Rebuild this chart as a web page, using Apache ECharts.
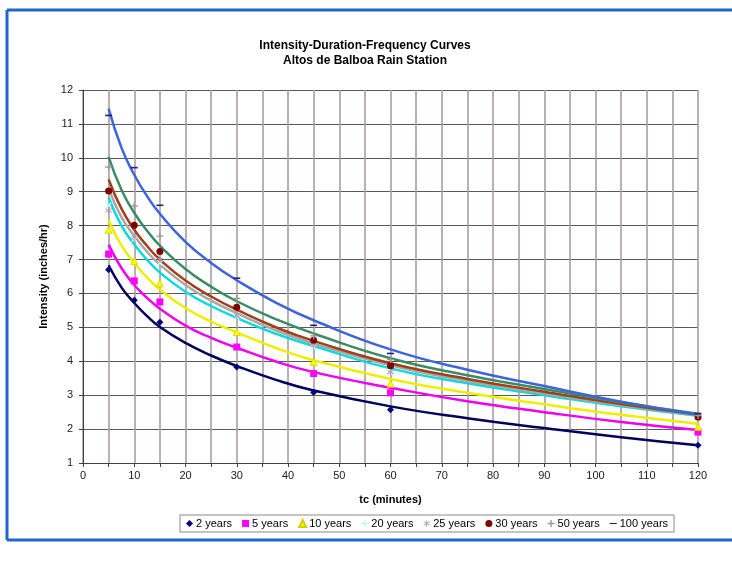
<!DOCTYPE html>
<html>
<head>
<meta charset="utf-8">
<script src="https://cdn.jsdelivr.net/npm/echarts@6/dist/echarts.min.js"></script>
<style>html,body{margin:0;padding:0;background:#fff}#c{width:732px;height:561px}</style>
</head>
<body>
<div id="c"></div>
<script>
// Observed durations (minutes)
const durations = [5, 10, 15, 30, 45, 60, 120];
// Observed intensities (inches/hr) per return period
const obs2 = [6.70, 5.80, 5.15, 3.83, 3.08, 2.57, 1.52];
const obs5 = [7.16, 6.37, 5.75, 4.42, 3.64, 3.07, 1.91];
const obs10 = [7.88, 6.96, 6.30, 4.86, 3.98, 3.34, 2.06];
const obs20 = [8.60, 7.60, 6.90, 5.30, 4.40, 3.65, 2.30];
const obs25 = [8.45, 7.65, 7.00, 5.35, 4.47, 3.68, 2.33];
const obs30 = [9.02, 8.01, 7.24, 5.59, 4.62, 3.87, 2.36];
const obs50 = [9.73, 8.58, 7.69, 5.85, 4.75, 4.05, 2.40];
const obs100 = [11.25, 9.71, 8.60, 6.45, 5.06, 4.23, 2.46];

// Trend curves
const trendX = [5, 7.5, 10, 12.5, 15, 20, 25, 30, 37.5, 45, 60, 75, 90, 105, 120];
const trend2 = [6.83, 6.18, 5.72, 5.33, 5.01, 4.54, 4.17, 3.86, 3.46, 3.14, 2.67, 2.32, 2.03, 1.76, 1.52];
const trend5 = [7.44, 6.75, 6.25, 5.87, 5.55, 5.05, 4.69, 4.40, 4.00, 3.68, 3.22, 2.82, 2.50, 2.21, 1.97];
const trend10 = [8.16, 7.42, 6.90, 6.47, 6.12, 5.57, 5.17, 4.85, 4.40, 4.03, 3.48, 3.07, 2.73, 2.42, 2.16];
const trend20 = [8.83, 8.00, 7.45, 6.99, 6.62, 6.05, 5.63, 5.28, 4.82, 4.45, 3.79, 3.35, 3.00, 2.67, 2.39];
const trend25 = [9.10, 8.25, 7.70, 7.23, 6.85, 6.25, 5.79, 5.42, 4.92, 4.52, 3.88, 3.42, 3.05, 2.71, 2.41];
const trend30 = [9.36, 8.50, 7.88, 7.40, 7.00, 6.38, 5.91, 5.52, 5.01, 4.60, 3.94, 3.48, 3.10, 2.74, 2.43];
const trend50 = [10.03, 9.06, 8.38, 7.85, 7.41, 6.72, 6.20, 5.77, 5.25, 4.82, 4.09, 3.59, 3.18, 2.79, 2.45];
const trend100 = [11.45, 10.30, 9.50, 8.87, 8.35, 7.52, 6.90, 6.39, 5.74, 5.21, 4.35, 3.75, 3.27, 2.81, 2.42];

const seriesNames = ['2 years', '5 years', '10 years', '20 years', '25 years', '30 years', '50 years', '100 years'];
const xTicks = [0, 10, 20, 30, 40, 50, 60, 70, 80, 90, 100, 110, 120];

const FONT = 'Liberation Sans, Arial, sans-serif';
const pair = (xs, ys) => xs.map((x, i) => [x, ys[i]]);

const PLUS = 'path://M4,0H6V4H10V6H6V10H4V6H0V4H4Z';
const STAR = 'path://M4.4,0H5.6V3.8L8.9,1.9L9.5,2.9L6.2,5L9.5,7.1L8.9,8.1L5.6,6.2V10H4.4V6.2L1.1,8.1L0.5,7.1L3.8,5L0.5,2.9L1.1,1.9L4.4,3.8Z';
const DASH = 'path://M0,4.2H10V5.8H0Z';

const obsSets = [
  {name: seriesNames[0], data: obs2, symbol: 'diamond', size: 7, color: '#000080'},
  {name: seriesNames[1], data: obs5, symbol: 'rect', size: 7, color: '#ff00ff'},
  {name: seriesNames[2], data: obs10, symbol: 'triangle', size: 7, color: '#ffff00', border: '#d0d000'},
  {name: seriesNames[3], data: obs20, symbol: PLUS, size: 7, rotate: 45, color: '#c8f4f4'},
  {name: seriesNames[4], data: obs25, symbol: STAR, size: 7, color: '#b49ab8'},
  {name: seriesNames[5], data: obs30, symbol: 'circle', size: 7, color: '#800000'},
  {name: seriesNames[6], data: obs50, symbol: PLUS, size: 7, color: '#9a9a9a'},
  {name: seriesNames[7], data: obs100, symbol: DASH, size: [7, 1.6], color: '#202080'}
];
const trendSets = [
  {data: trend2, color: '#00005e'},
  {data: trend5, color: '#f000f0'},
  {data: trend10, color: '#eeee00'},
  {data: trend20, color: '#10d8dc'},
  {data: trend25, color: '#a8a8a8'},
  {data: trend30, color: '#a0401a'},
  {data: trend50, color: '#3a8c64'},
  {data: trend100, color: '#3c64dc'}
];

const series = [];
trendSets.forEach((t, i) => {
  series.push({
    type: 'line', name: 'trend' + i, data: pair(trendX, t.data),
    smooth: 0.5, showSymbol: false, symbol: 'none',
    lineStyle: {color: t.color, width: 2.5}, z: 2 + i * 0.01, silent: true
  });
});
obsSets.forEach(s => {
  series.push({
    type: 'scatter', name: s.name, data: pair(durations, s.data),
    symbol: s.symbol, symbolSize: s.size, symbolRotate: s.rotate || 0,
    itemStyle: {color: s.color, borderColor: s.border || s.color, borderWidth: s.border ? 0.8 : 0, opacity: 1},
    z: 5
  });
});

const legendData = obsSets.map(s => ({name: s.name, icon: s.symbol}));

const chart = echarts.init(document.getElementById('c'), null, {renderer: 'canvas'});
chart.setOption({
  animation: false,
  backgroundColor: '#ffffff',
  title: {
    text: 'Intensity-Duration-Frequency Curves\nAltos de Balboa Rain Station',
    left: 360, top: 33, textAlign: 'center',
    textStyle: {fontFamily: FONT, fontSize: 12, fontWeight: 'bold', color: '#000', lineHeight: 15}
  },
  graphic: [
    {type: 'line', shape: {x1: 7, y1: 10, x2: 732, y2: 10}, style: {stroke: '#1f66cc', lineWidth: 3}},
    {type: 'line', shape: {x1: 7, y1: 10, x2: 7, y2: 540}, style: {stroke: '#1f66cc', lineWidth: 3}},
    {type: 'line', shape: {x1: 7, y1: 540, x2: 732, y2: 540}, style: {stroke: '#1f66cc', lineWidth: 3}}
  ],
  legend: {
    data: legendData,
    left: 180, top: 515,
    orient: 'horizontal',
    itemWidth: 7, itemHeight: 7, itemGap: 10,
    padding: [3, 6, 3, 6],
    borderColor: '#8a8a8a', borderWidth: 1,
    textStyle: {fontFamily: FONT, fontSize: 11, color: '#000', padding: [0, 0, 0, -2]}
  },
  grid: {left: 83, right: 34, top: 90, bottom: 98, containLabel: false},
  xAxis: {
    type: 'value', min: 0, max: 120, interval: 5,
    name: 'tc (minutes)', nameLocation: 'middle', nameGap: 31,
    nameTextStyle: {fontFamily: FONT, fontSize: 11, fontWeight: 'bold', color: '#000'},
    axisLine: {show: true, lineStyle: {color: '#404040', width: 1}},
    axisTick: {show: true, length: 4, lineStyle: {color: '#404040'}},
    axisLabel: {
      fontFamily: FONT, fontSize: 11, color: '#222', margin: 7,
      formatter: v => (xTicks.indexOf(v) >= 0 ? String(v) : '')
    },
    splitLine: {show: true, lineStyle: {color: '#ab9e9e', width: 1.6}}
  },
  yAxis: {
    type: 'value', min: 1, max: 12, interval: 1,
    name: 'Intensity (inches/hr)', nameLocation: 'middle', nameGap: 34, nameRotate: 90,
    nameTextStyle: {fontFamily: FONT, fontSize: 11, fontWeight: 'bold', color: '#000'},
    axisLine: {show: true, lineStyle: {color: '#404040', width: 1}},
    axisTick: {show: true, length: 4, lineStyle: {color: '#404040'}},
    axisLabel: {fontFamily: FONT, fontSize: 11, color: '#222', margin: 10},
    splitLine: {show: true, lineStyle: {color: '#5a5a5a', width: 1}}
  },
  series: series
});
</script>
</body>
</html>
